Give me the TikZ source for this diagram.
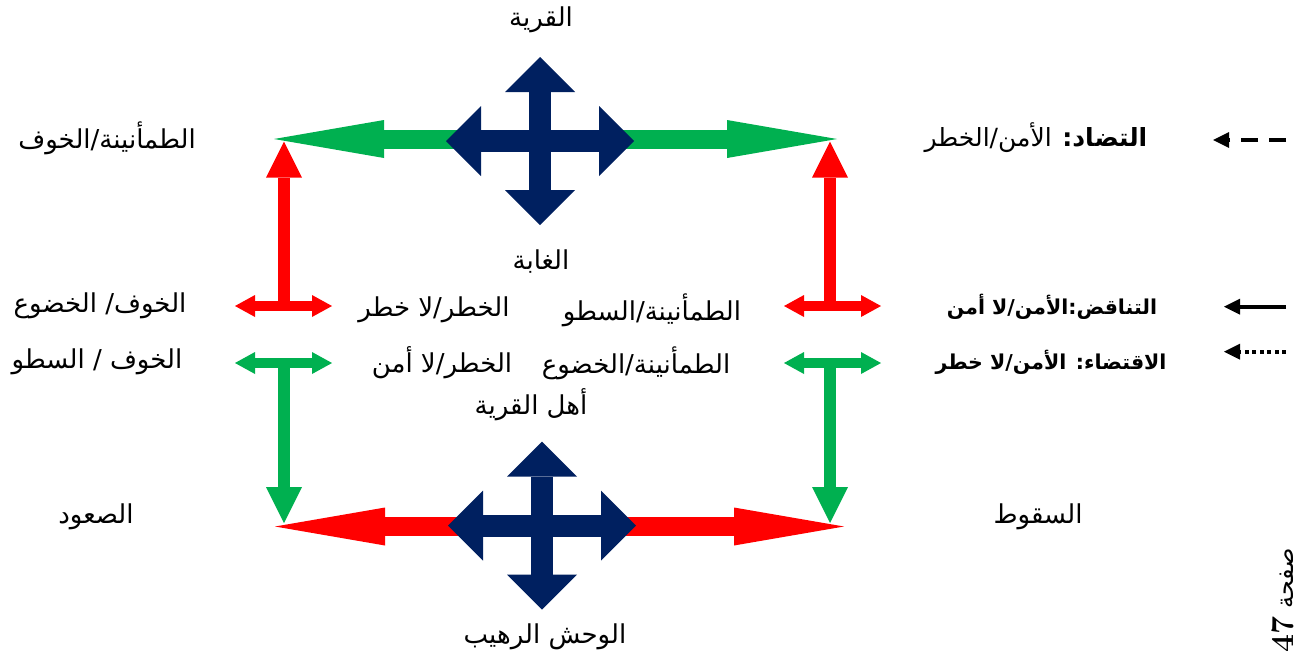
\documentclass[tikz,border=0pt]{standalone}
\usepackage{fontspec}
\usetikzlibrary{arrows.meta}
\TeXXeTstate=1
\newfontfamily\arabicfont[Script=Arabic]{DejaVu Sans}
\newcommand\ar[1]{\beginR #1\endR}
\definecolor{grn}{HTML}{00B050}
\definecolor{rd}{HTML}{FF0000}
\definecolor{nvy}{HTML}{002060}
\tikzset{
  lbl/.style={inner sep=0pt, font=\arabicfont\fontsize{26}{30}\selectfont},
  keylbl/.style={inner sep=0pt, font=\arabicfont\bfseries\fontsize{20.5}{24}\selectfont},
  big tip/.tip={Triangle[length=110pt, width=38pt, line width=0pt]},
  cross tip/.tip={Triangle[length=35pt, width=70pt, line width=0pt]},
  stem tip/.tip={Triangle[length=36pt, width=36pt, line width=0pt]},
  small tip/.tip={Triangle[length=20pt, width=22pt, line width=0pt]},
  key tip/.tip={Triangle[length=16pt, width=16pt, line width=0pt]},
  bigarr/.style={line width=19pt, big tip-big tip},
  crossarr/.style={nvy, line width=22pt, cross tip-cross tip},
  stemarr/.style={line width=11.5pt, -stem tip},
  smallarr/.style={line width=10pt, small tip-small tip},
  keyarr/.style={line width=4pt, -key tip},
  navycross/.pic={
    \draw[crossarr] (0,-84) -- (0,84);
    \draw[crossarr] (-94,0) -- (94,0);
  }
}
\begin{document}
\begin{tikzpicture}[x=1pt, y=-1pt, line join=miter]
  \path[fill=white, use as bounding box] (0,0) rectangle (1303,657);

  % square corners
  \coordinate (ul) at (274,139);   \coordinate (ur) at (837,139);
  \coordinate (ll) at (275,526.5); \coordinate (lr) at (844,526.5);
  \coordinate (ml) at (284,306);   \coordinate (mr) at (830,306);
  \coordinate (nl) at (284,363);   \coordinate (nr) at (830,363);

  \draw[grn, bigarr] (ul) -- (ur);
  \draw[rd, bigarr] (ll) -- (lr);
  \pic at (540,141) {navycross};
  \pic at (542,525.5) {navycross};

  \draw[rd, stemarr] (ml) -- (284,141.7);
  \draw[rd, stemarr] (mr) -- (830,141.7);
  \draw[grn, stemarr] (nl) -- (284,523);
  \draw[grn, stemarr] (nr) -- (830,523);
  \draw[rd, smallarr] ([xshift=-49pt]ml) -- ([xshift=48pt]ml);
  \draw[rd, smallarr] ([xshift=-46pt]mr) -- ([xshift=51pt]mr);
  \draw[grn, smallarr] ([xshift=-49pt]nl) -- ([xshift=48pt]nl);
  \draw[grn, smallarr] ([xshift=-46pt]nr) -- ([xshift=51pt]nr);

  % labels
  \node[lbl] (village) at (541,20) {\ar{القرية}};
  \node[lbl] (forest) at (541,262) {\ar{الغابة}};
  \node[lbl] (people) at (531,405) {\ar{أهل القرية}};
  \node[lbl] (beast) at (545,637) {\ar{الوحش الرهيب}};
  \node[lbl] (calmfear) at (107,138) {\ar{الطمأنينة/الخوف}};
  \node[lbl] (fearsub) at (100,306) {\ar{الخوف/ الخضوع}};
  \node[lbl] (fearraid) at (97,362) {\ar{الخوف / السطو}};
  \node[lbl] (danger1) at (434,310) {\ar{الخطر/لا خطر}};
  \node[lbl] (calmraid) at (652,310) {\ar{الطمأنينة/السطو}};
  \node[lbl] (danger2) at (442,363) {\ar{الخطر/لا أمن}};
  \node[lbl] (calmsub) at (636,363) {\ar{الطمأنينة/الخضوع}};
  \node[lbl] (rise) at (96,517) {\ar{الصعود}};
  \node[lbl] (fall) at (1038,517) {\ar{السقوط}};

  % key
  \node[lbl, font=\arabicfont\fontsize{25}{30}\selectfont] (contrary) at (1036,138)
    {\ar{\textbf{التضاد:} الأمن/الخطر}};
  \node[keylbl] (contra) at (1052,307) {\ar{التناقض:الأمن/لا أمن}};
  \node[keylbl] (implic) at (1051,362) {\ar{الاقتضاء: الأمن/لا خطر}};
  \coordinate (k1) at (1286,140);
  \coordinate (k2) at (1286,306.7);
  \coordinate (k3) at (1286,351.7);
  \draw[keyarr, dash pattern=on 17pt off 11pt] (k1) -- (1213,140);
  \draw[keyarr] (k2) -- (1224,306.7);
  \draw[keyarr, dash pattern=on 4pt off 3.5pt] (k3) -- (1224,351.7);

  \node[lbl, rotate=90, font=\arabicfont\fontsize{24}{28}\selectfont] (page) at (1283,600)
    {\ar{صفحة \beginL{\rmfamily\bfseries\fontsize{32}{34}\selectfont 47}\endL}};
\end{tikzpicture}
\end{document}
